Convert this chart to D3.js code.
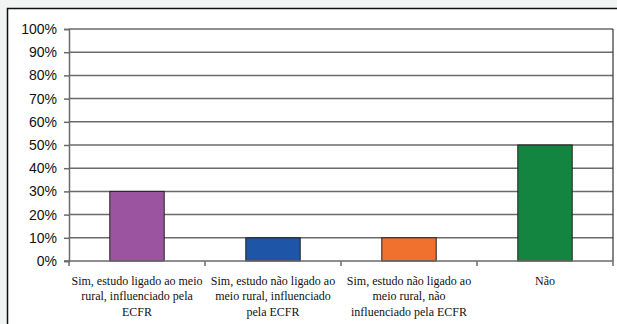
<!DOCTYPE html>
<html><head><meta charset="utf-8">
<script src="https://cdn.jsdelivr.net/npm/d3@7"></script>
<style>
html,body{margin:0;padding:0;background:#f2f4f3;}
svg{display:block;}
.cat{font-family:"Liberation Serif","Times New Roman",serif;}
.yl{font-family:"Liberation Sans",Arial,sans-serif;}
</style></head>
<body>
<svg id="chart" width="617" height="324"></svg>
<script>
const categories = [
  ["Sim, estudo ligado ao meio", "rural, influenciado pela", "ECFR"],
  ["Sim, estudo não ligado ao", "meio rural, influenciado", "pela ECFR"],
  ["Sim, estudo não ligado ao", "meio rural, não", "influenciado pela ECFR"],
  ["Não"]
];
const values = [0.30, 0.10, 0.10, 0.50];
const colors = ["#9b55a0", "#1f55a6", "#f0702e", "#138540"];
const yTicks = [0, 0.1, 0.2, 0.3, 0.4, 0.5, 0.6, 0.7, 0.8, 0.9, 1.0];

(function() {
const svg = d3.select("#chart");
// outer frame
svg.append("rect").attr("x", 7.5).attr("y", 8.5).attr("width", 640).attr("height", 340)
  .attr("fill", "#fff").attr("stroke", "#111").attr("stroke-width", 1.5);

const pL = 69, pR = 613, pT = 29, pB = 261;
const keys = categories.map((d, i) => i);
const x = d3.scaleBand().domain(keys).range([pL, pR]).paddingInner(0.6).paddingOuter(0.3);
const xb = d3.scaleBand().domain(keys).range([pL, pR]);
const y = d3.scaleLinear().domain([0, 1]).range([pB, pT]);

// gridlines
svg.append("g").selectAll("line").data(yTicks.slice(1)).join("line")
  .attr("x1", pL).attr("x2", pR)
  .attr("y1", d => y(d)).attr("y2", d => y(d))
  .attr("stroke", "#6a6a6a").attr("stroke-width", 1.5);

// right border of plot
svg.append("line").attr("x1", pR).attr("x2", pR).attr("y1", pT).attr("y2", pB)
  .attr("stroke", "#333").attr("stroke-width", 1.2);

// bars
svg.append("g").selectAll("rect").data(values).join("rect")
  .attr("x", (d, i) => x(i)).attr("width", x.bandwidth())
  .attr("y", d => y(d)).attr("height", d => y(0) - y(d))
  .attr("fill", (d, i) => colors[i]).attr("stroke", "#222").attr("stroke-width", 1);

// y axis
const yAxis = d3.axisLeft(y).tickValues(yTicks).tickFormat(d3.format(".0%")).tickSize(5).tickPadding(7);
const gy = svg.append("g").attr("transform", `translate(${pL},0)`).call(yAxis);
gy.attr("font-family", null).attr("font-size", null);
gy.select(".domain").attr("stroke", "#6a6a6a").attr("stroke-width", 1.5);
gy.selectAll(".tick line").attr("stroke", "#6a6a6a").attr("stroke-width", 1.5);
gy.selectAll("text").attr("class", "yl").attr("font-size", 14).attr("fill", "#111");

// x axis line and boundary ticks
svg.append("line").attr("x1", pL - 5).attr("x2", pR).attr("y1", pB).attr("y2", pB)
  .attr("stroke", "#6a6a6a").attr("stroke-width", 1.5);
svg.append("g").selectAll("line").data(keys.concat([keys.length])).join("line")
  .attr("x1", d => pL + d * xb.step()).attr("x2", d => pL + d * xb.step())
  .attr("y1", pB).attr("y2", pB + 5)
  .attr("stroke", "#6a6a6a").attr("stroke-width", 1.5);

// category labels
const lab = svg.append("g").selectAll("text").data(categories).join("text")
  .attr("class", "cat")
  .attr("x", (d, i) => xb(i) + xb.bandwidth() / 2)
  .attr("y", 285)
  .attr("text-anchor", "middle")
  .attr("font-size", 12).attr("fill", "#111");
lab.each(function(d, i) {
  const t = d3.select(this);
  t.selectAll("tspan").data(d).join("tspan")
    .attr("x", xb(i) + xb.bandwidth() / 2)
    .attr("dy", (s, j) => j === 0 ? 0 : 15.3)
    .text(s => s);
});
})();
</script>
</body></html>
